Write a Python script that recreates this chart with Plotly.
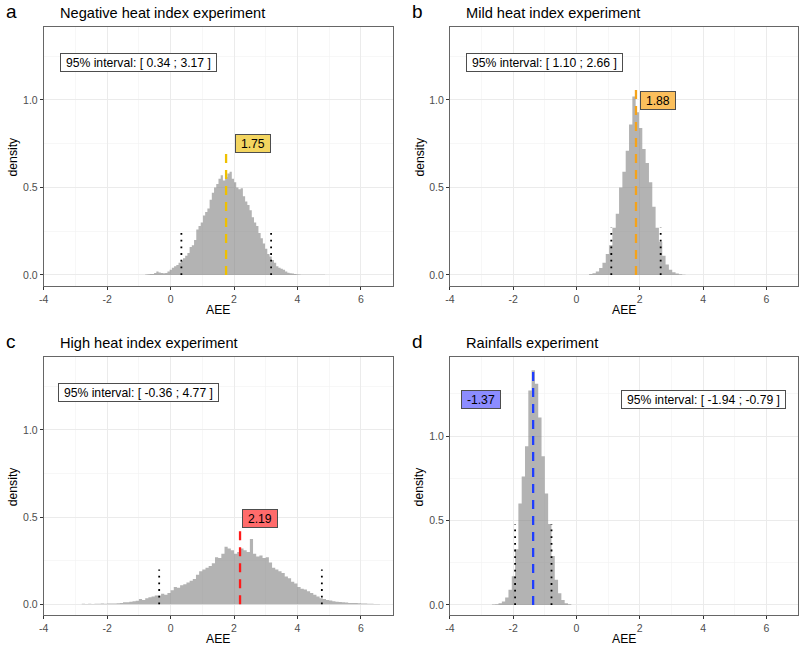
import plotly.graph_objects as go

# ---------------- data ----------------
tags = ["a", "b", "c", "d"]
titles = ["Negative heat index experiment", "Mild heat index experiment",
          "High heat index experiment", "Rainfalls experiment"]

# histogram densities (bin start, bin width, densities)
a_start, a_width = -0.80, 0.07
a_density = [0.003, 0.004, 0.006, 0.005, 0.012, 0.020, 0.014, 0.012, 0.010, 0.012,
             0.020, 0.030, 0.042, 0.050, 0.057, 0.070, 0.080, 0.095, 0.110, 0.125,
             0.160, 0.170, 0.200, 0.260, 0.280, 0.300, 0.340, 0.360, 0.380, 0.430,
             0.470, 0.500, 0.520, 0.550, 0.570, 0.540, 0.560, 0.580, 0.590, 0.550,
             0.530, 0.500, 0.490, 0.495, 0.450, 0.420, 0.400, 0.370, 0.330, 0.300,
             0.280, 0.240, 0.210, 0.180, 0.150, 0.120, 0.105, 0.085, 0.070, 0.050,
             0.042, 0.035, 0.030, 0.020, 0.013, 0.010, 0.008, 0.006, 0.004, 0.003,
             0.002, 0.002, 0.001, 0.002, 0.001, 0.001, 0.002, 0.001, 0.001, 0.001, 0.001]

b_start, b_width = 0.40, 0.105
b_density = [0.005, 0.010, 0.020, 0.040, 0.070, 0.120, 0.170, 0.270, 0.350, 0.500,
             0.590, 0.710, 0.860, 1.020, 0.930, 0.840, 0.720, 0.640, 0.530, 0.390,
             0.270, 0.190, 0.110, 0.060, 0.030, 0.015, 0.008, 0.004, 0.002]

c_start, c_width = -2.80, 0.10
c_density = [0.003, 0.002, 0.003, 0.002, 0.003, 0.003, 0.004, 0.003, 0.004, 0.005,
             0.004, 0.006, 0.008, 0.012, 0.012, 0.015, 0.018, 0.020, 0.030, 0.025,
             0.035, 0.040, 0.045, 0.050, 0.050, 0.060, 0.055, 0.065, 0.080, 0.100,
             0.095, 0.110, 0.115, 0.125, 0.135, 0.145, 0.170, 0.190, 0.200, 0.210,
             0.220, 0.235, 0.270, 0.265, 0.290, 0.330, 0.320, 0.310, 0.290, 0.300,
             0.320, 0.310, 0.300, 0.375, 0.290, 0.275, 0.280, 0.265, 0.270, 0.240,
             0.210, 0.200, 0.190, 0.180, 0.160, 0.150, 0.130, 0.120, 0.100, 0.090,
             0.085, 0.075, 0.065, 0.055, 0.045, 0.035, 0.030, 0.025, 0.022, 0.018,
             0.015, 0.013, 0.012, 0.010, 0.008, 0.008, 0.007, 0.006, 0.005, 0.004,
             0.003, 0.003, 0.002, 0.002]

d_start, d_width = -2.672, 0.1045
d_density = [0.003, 0.005, 0.010, 0.020, 0.045, 0.090, 0.170, 0.330, 0.600, 0.760,
             0.940, 1.270, 1.390, 1.310, 1.110, 0.880, 0.660, 0.480, 0.290, 0.150,
             0.070, 0.030, 0.010, 0.004]

means = [1.75, 1.88, 2.19, -1.37]
ci_low = [0.34, 1.10, -0.36, -1.94]
ci_high = [3.17, 2.66, 4.77, -0.79]
mean_line_top = [0.70, 1.095, 0.447, 1.40]
ci_line_top = [0.24, 0.27, 0.20, 0.48]
mean_label_x = [2.59, 2.59, 2.81, -3.01]
mean_label_y = [0.749, 0.998, 0.495, 1.217]
ci_label_x = [-1.0, -1.0, -1.0, 4.0]
ci_label_y = [1.217, 1.217, 1.214, 1.217]

x_tick_vals = [-4, -2, 0, 2, 4, 6]
x_tick_text = ["-4", "-2", "0", "2", "4", "6"]
y_tick_vals = [0.0, 0.5, 1.0]
y_tick_text = ["0.0", "0.5", "1.0"]

line_colors = ["#EFC000", "#F5A31A", "#FF1A1A", "#1F3DFF"]
label_fills = ["#F3D560", "#FBBF5C", "#FF6B6B", "#8C8CFF"]

hists = [(a_start, a_width, a_density), (b_start, b_width, b_density),
         (c_start, c_width, c_density), (d_start, d_width, d_density)]

# ---------------- layout geometry ----------------
W, H = 800, 646
FONT = "Liberation Sans, Arial, Helvetica, sans-serif"
px_left = [39, 447.7, 39, 447.7]
px_right = [390, 798, 390, 798]
px_top = [27, 27, 357.3, 357.3]
px_bottom = [286, 286, 615.3, 615.3]
y_ranges = [[-0.063, 1.417], [-0.063, 1.417], [-0.063, 1.417], [-0.061, 1.466]]

fig = go.Figure()
annotations = []
NB = "\u00a0"

for i in range(4):
    sfx = "" if i == 0 else str(i + 1)
    xa, ya = "x" + sfx, "y" + sfx
    start, width, dens = hists[i]
    edges = [round(start + width * k, 4) for k in range(len(dens) + 1)]
    ys = list(dens) + [dens[-1]]
    fig.add_trace(go.Scatter(x=edges, y=ys, mode="lines",
                             line=dict(shape="hv", width=0, color="rgba(128,128,128,0)"),
                             fill="tozeroy", fillcolor="rgba(128,128,128,0.6)",
                             xaxis=xa, yaxis=ya, hoverinfo="skip", showlegend=False))
    for v in (ci_low[i], ci_high[i]):
        fig.add_trace(go.Scatter(x=[v, v], y=[0, ci_line_top[i]], mode="lines",
                                 line=dict(color="black", width=1.8, dash="1.8px,4.9px"),
                                 xaxis=xa, yaxis=ya, hoverinfo="skip", showlegend=False))
    fig.add_trace(go.Scatter(x=[means[i], means[i]], y=[0, mean_line_top[i]], mode="lines",
                             line=dict(color=line_colors[i], width=2.3, dash="9px,7px"),
                             xaxis=xa, yaxis=ya, hoverinfo="skip", showlegend=False))

    fig.layout["xaxis" + sfx] = dict(
        domain=[px_left[i] / W, px_right[i] / W], range=[-4, 7], anchor=ya,
        tickmode="array", tickvals=x_tick_vals, ticktext=x_tick_text,
        ticks="outside", ticklen=3, tickwidth=1, tickcolor="#333333",
        tickfont=dict(size=10.5, color="#4D4D4D", family=FONT),
        showgrid=True, gridcolor="#EBEBEB", gridwidth=1,
        minor=dict(tickmode="array", tickvals=[-3, -1, 1, 3, 5, 7], showgrid=True,
                   gridcolor="#F2F2F2", gridwidth=0.6, ticks=""),
        showline=True, mirror=True, linecolor="#666666", linewidth=1,
        zeroline=False, fixedrange=True)
    fig.layout["yaxis" + sfx] = dict(
        domain=[1 - px_bottom[i] / H, 1 - px_top[i] / H], range=y_ranges[i], anchor=xa,
        tickmode="array", tickvals=y_tick_vals, ticktext=y_tick_text,
        ticks="outside", ticklen=3, tickwidth=1, tickcolor="#333333",
        tickfont=dict(size=10.5, color="#4D4D4D", family=FONT),
        showgrid=True, gridcolor="#EBEBEB", gridwidth=1,
        minor=dict(tickmode="array", tickvals=[0.25, 0.75, 1.25], showgrid=True,
                   gridcolor="#F2F2F2", gridwidth=0.6, ticks=""),
        showline=True, mirror=True, linecolor="#666666", linewidth=1,
        zeroline=False, fixedrange=True)

    # tag letter
    annotations.append(dict(text=tags[i], xref="paper", yref="paper",
                            x=(px_left[i] - 40) / W, y=1 - (px_top[i] - 15.5) / H,
                            xanchor="left", yanchor="middle", showarrow=False,
                            font=dict(size=19, color="black", family=FONT)))
    # title
    annotations.append(dict(text=titles[i], xref="paper", yref="paper",
                            x=(px_left[i] + 14) / W, y=1 - (px_top[i] - 14) / H,
                            xanchor="left", yanchor="middle", showarrow=False,
                            font=dict(size=14.6, color="black", family=FONT)))
    # axis titles
    annotations.append(dict(text="AEE", xref="paper", yref="paper",
                            x=(px_left[i] + px_right[i]) / 2 / W, y=1 - (px_bottom[i] + 24) / H,
                            xanchor="center", yanchor="middle", showarrow=False,
                            font=dict(size=12.2, color="black", family=FONT)))
    annotations.append(dict(text="density", xref="paper", yref="paper", textangle=-90,
                            x=(px_left[i] - 31) / W, y=1 - (px_top[i] + px_bottom[i]) / 2 / H,
                            xanchor="center", yanchor="middle", showarrow=False,
                            font=dict(size=12.2, color="black", family=FONT)))
    # interval label
    ci_text = "95% interval: [ {:.2f} ; {:.2f} ]".format(ci_low[i], ci_high[i])
    annotations.append(dict(text=NB + ci_text + NB, xref=xa, yref=ya,
                            x=ci_label_x[i], y=ci_label_y[i], xanchor="center", yanchor="middle",
                            showarrow=False, bgcolor="white", bordercolor="#4D4D4D",
                            borderwidth=1, borderpad=1.5,
                            font=dict(size=12.2, color="black", family=FONT)))
    # mean label
    annotations.append(dict(text=NB + "{:.2f}".format(means[i]) + NB, xref=xa, yref=ya,
                            x=mean_label_x[i], y=mean_label_y[i], xanchor="center", yanchor="middle",
                            showarrow=False, bgcolor=label_fills[i], bordercolor="#4D4D4D",
                            borderwidth=1, borderpad=1.5,
                            font=dict(size=12.2, color="black", family=FONT)))

fig.update_layout(width=W, height=H, margin=dict(l=0, r=0, t=0, b=0),
                  paper_bgcolor="white", plot_bgcolor="white",
                  showlegend=False, annotations=annotations,
                  font=dict(family=FONT))

fig.write_html("out.html", config={"displayModeBar": False, "staticPlot": True},
               post_script="document.body.style.margin='0';document.body.style.padding='0';")
